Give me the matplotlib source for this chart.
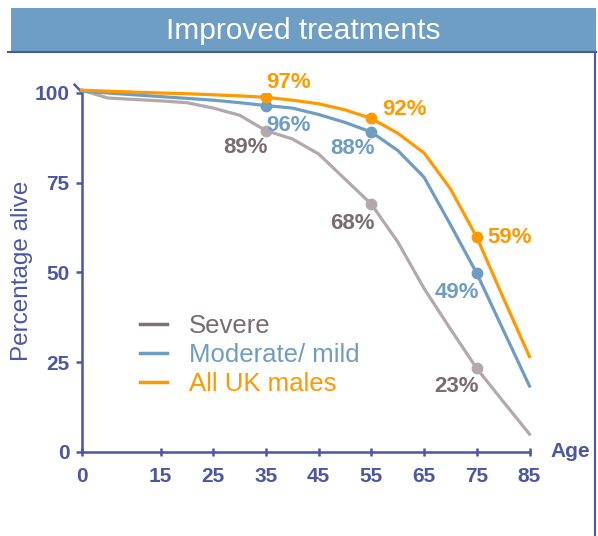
import matplotlib.pyplot as plt
from matplotlib.lines import Line2D
from matplotlib.patches import Rectangle

plt.rcParams['font.family'] = ['Liberation Sans', 'DejaVu Sans']

# Survival curves
ages = [0, 5, 15, 20, 25, 30, 35, 40, 45, 50, 55, 60, 65, 70, 75, 80, 85]
severe = [100.8, 98.6, 97.8, 97.3, 95.8, 93.8, 89.5, 87.2, 83.0, 76.0, 69.0, 58.5, 45.5, 34.2, 23.2, 14.0, 4.9]
moderate = [100.6, 100.0, 99.0, 98.5, 98.0, 97.3, 96.5, 95.8, 94.0, 91.8, 89.1, 84.0, 76.5, 63.3, 49.7, 34.0, 18.3]
all_uk = [100.8, 100.5, 100.0, 99.8, 99.5, 99.2, 98.8, 98.0, 97.0, 95.3, 92.9, 88.8, 83.3, 73.3, 59.8, 43.0, 26.5]

mark_ages = [35, 55, 75]
severe_labels = ['89%', '68%', '23%']
moderate_labels = ['96%', '88%', '49%']
all_uk_labels = ['97%', '92%', '59%']

x_ticks = [0, 15, 25, 35, 45, 55, 65, 75, 85]
y_ticks = [0, 25, 50, 75, 100]

axis_col = '#4b57a5'
grey_line = '#b3a8aa'
grey_text = '#7a6a72'
blue = '#6f9dc2'
orange = '#ff9900'

W, H = 598, 536
fig = plt.figure(figsize=(W / 100, H / 100), dpi=100)
fig.patch.set_facecolor('white')

# title banner and frame lines
fig.patches.append(Rectangle((11 / W, 1 - 52 / H), 585 / W, 44 / H,
                             transform=fig.transFigure, facecolor='#6f9ec4', edgecolor='none'))
fig.add_artist(Line2D([8 / W, 596 / W], [1 - 52 / H, 1 - 52 / H], transform=fig.transFigure,
                      color=axis_col, lw=1.5))
fig.add_artist(Line2D([595 / W, 595 / W], [1 - 52 / H, 0], transform=fig.transFigure,
                      color=axis_col, lw=1.5))
fig.text(303 / W, 1 - 31 / H, 'Improved treatments', color='white', fontsize=21.5,
         ha='center', va='center')

ax = fig.add_axes([81.5 / W, 1 - 451.7 / H, 448 / W, 358.7 / H])
ax.set_facecolor('none')
ax.set_xlim(0, 85)
ax.set_ylim(0, 100)

lw = 2.3
ax.plot(ages, severe, color=grey_line, lw=lw, clip_on=False, zorder=3)
ax.plot(ages, moderate, color=blue, lw=lw, clip_on=False, zorder=4)
ax.plot(ages, all_uk, color=orange, lw=lw, clip_on=False, zorder=5)


def pick(series):
    return [series[ages.index(a)] for a in mark_ages]


ax.plot(mark_ages, pick(severe), 'o', color=grey_line, ms=7.5, zorder=3)
ax.plot(mark_ages, pick(moderate), 'o', color=blue, ms=7.5, zorder=4)
ax.plot(mark_ages, pick(all_uk), 'o', color=orange, ms=7.5, zorder=5)

# label offsets (points) and alignment per marker
offsets = {
    'severe': [((1.4, -12.2), 'right'), ((2.2, -13.7), 'right'), ((1.4, -13.0), 'right')],
    'moderate': [((0, -14.4), 'left'), ((2.2, -11.5), 'right'), ((1.4, -13.7), 'right')],
    'all_uk': [((0, 10.8), 'left'), ((7.9, 6.5), 'left'), ((7.9, 0), 'left')],
}
groups = [('severe', severe, severe_labels, grey_text),
          ('moderate', moderate, moderate_labels, blue),
          ('all_uk', all_uk, all_uk_labels, orange)]
for key, series, labels, col in groups:
    for (off, ha), a, v, lab in zip(offsets[key], mark_ages, pick(series), labels):
        ax.annotate(lab, xy=(a, v), xytext=off, textcoords='offset points',
                    ha=ha, va='center', color=col, fontsize=16, fontweight='bold', zorder=6)

for s in ['top', 'right']:
    ax.spines[s].set_visible(False)
for s in ['left', 'bottom']:
    ax.spines[s].set_color(axis_col)
    ax.spines[s].set_linewidth(1.8)

ax.set_xticks(x_ticks)
ax.set_yticks(y_ticks)
ax.tick_params(axis='x', direction='inout', length=6, width=1.8, color=axis_col,
               labelcolor=axis_col, labelsize=15, pad=8)
ax.tick_params(axis='y', direction='out', length=4.5, width=1.8, color=axis_col,
               labelcolor=axis_col, labelsize=15, pad=4)
for t in ax.get_xticklabels() + ax.get_yticklabels():
    t.set_fontweight('bold')

# small slanted cap at top of y axis
ax.plot([0, -1.3], [100.3, 102.3], color=axis_col, lw=1.8, clip_on=False)

ax.text(1.046, 0, 'Age', transform=ax.transAxes, ha='left', va='center',
        color=axis_col, fontsize=15, fontweight='bold')
fig.text(22 / W, 1 - 271 / H, 'Percentage alive', rotation=90, ha='center', va='center',
         color=axis_col, fontsize=17.5)

handles = [Line2D([], [], color='#807279', lw=2.5),
           Line2D([], [], color=blue, lw=2.5),
           Line2D([], [], color=orange, lw=2.5)]
ax.legend(handles, ['Severe', 'Moderate/ mild', 'All UK males'],
          loc='upper left', bbox_to_anchor=(0.13, 0.385), frameon=False, fontsize=18.5,
          handlelength=1.05, handletextpad=0.85, labelspacing=0.2, borderpad=0,
          borderaxespad=0, labelcolor=[grey_text, blue, orange])

fig.savefig('out.png', dpi=100)
